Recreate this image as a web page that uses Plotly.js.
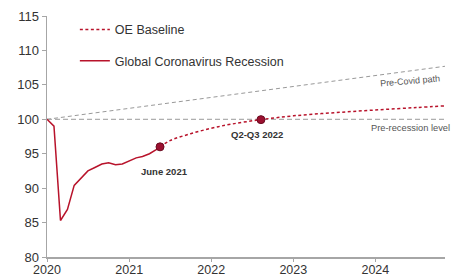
<!DOCTYPE html>
<html>
<head>
<meta charset="utf-8">
<script src="https://cdn.plot.ly/plotly-3.0.1.min.js"></script>
<style>html,body{margin:0;padding:0;background:#fff}#chart{width:454px;height:277px}</style>
</head>
<body>
<div id="chart"></div>
<script>
// Global Coronavirus Recession (monthly)
const recessionDates = ['2020-01-01','2020-02-01','2020-03-01','2020-04-01','2020-05-01','2020-06-01','2020-07-01','2020-08-01','2020-09-01','2020-10-01','2020-11-01','2020-12-01','2021-01-01','2021-02-01','2021-03-01','2021-04-01','2021-05-01','2021-05-18'];
const recessionValues = [100, 99.0, 85.3, 86.9, 90.4, 91.5, 92.5, 93.0, 93.5, 93.7, 93.4, 93.5, 93.9, 94.4, 94.6, 95.0, 95.6, 96.0];
// OE Baseline
const baselineDates = ['2021-05-18','2021-07-01','2021-10-01','2022-01-01','2022-04-01','2022-08-10','2023-01-01','2023-07-01','2024-01-01','2024-07-01','2024-11-06'];
const baselineValues = [96.0, 96.9, 97.9, 98.7, 99.3, 99.95, 100.5, 100.95, 101.35, 101.7, 101.95];
// Reference paths
const refDates = ['2020-01-01','2024-11-06'];
const preCovidValues = [100, 107.7];
const preRecessionValues = [100, 100];
// Highlighted points
const markerDates = ['2021-05-18','2022-08-10'];
const markerValues = [96.0, 99.95];
const markerLabels = ['June 2021','Q2-Q3 2022'];
const yTicks = [80, 85, 90, 95, 100, 105, 110, 115];

const red = '#b8132b';
const traces = [
  {x: refDates, y: preCovidValues, mode: 'lines', line: {color: '#999', width: 1, dash: '4px,3px'}, showlegend: false, hoverinfo: 'skip'},
  {x: refDates, y: preRecessionValues, mode: 'lines', line: {color: '#999', width: 1, dash: '5px,3px'}, showlegend: false, hoverinfo: 'skip'},
  {x: baselineDates, y: baselineValues, mode: 'lines', name: 'OE Baseline', line: {color: red, width: 1.5, dash: '3px,2.5px', shape: 'spline'}, legendgroup: 'a'},
  {x: recessionDates, y: recessionValues, mode: 'lines', name: 'Global Coronavirus Recession', line: {color: red, width: 1.5}, legendgroup: 'b'},
  {x: markerDates, y: markerValues, mode: 'markers', marker: {color: '#9b1030', size: 8, line: {color: '#6a0b20', width: 1}}, showlegend: false}
];

const annotations = [
  {x: markerDates[0], y: markerValues[0], text: '<b>' + markerLabels[0] + '</b>', showarrow: false, xanchor: 'center', yanchor: 'top', xshift: 4, yshift: -17, font: {family: 'Liberation Sans, Arial', size: 9.5, color: '#333'}},
  {x: markerDates[1], y: markerValues[1], text: '<b>' + markerLabels[1] + '</b>', showarrow: false, xanchor: 'center', yanchor: 'top', xshift: -4, yshift: -7, font: {family: 'Liberation Sans, Arial', size: 9.5, color: '#333'}},
  {x: '2024-11-06', y: 105.6, text: 'Pre-Covid path', showarrow: false, xanchor: 'right', yanchor: 'middle', xshift: -3, textangle: -5, font: {family: 'Liberation Sans, Arial', size: 9, color: '#555'}},
  {x: '2024-11-06', y: 100, text: 'Pre-recession level', showarrow: false, xanchor: 'right', yanchor: 'top', xshift: 7, yshift: -2, font: {family: 'Liberation Sans, Arial', size: 9.3, color: '#555'}}
];

const layout = {
  width: 454, height: 277,
  margin: {l: 47, r: 9, t: 16, b: 20},
  paper_bgcolor: '#fff', plot_bgcolor: '#fff',
  font: {family: 'Liberation Sans, Arial, sans-serif', color: '#333', size: 13},
  showlegend: true,
  legend: {x: 0.07, y: 1.005, xanchor: 'left', yanchor: 'top', bgcolor: 'rgba(0,0,0,0)', font: {size: 12.5, color: '#333'}, traceorder: 'grouped', tracegroupgap: 12, itemwidth: 30},
  xaxis: {type: 'date', range: ['2020-01-01','2024-11-06'], tickformat: '%Y', dtick: 'M12', tick0: '2020-01-01', showgrid: false, zeroline: false, showline: true, linecolor: '#a6a6a6', linewidth: 1.5, ticks: 'outside', ticklen: 3, tickcolor: '#a6a6a6', ticklabelstandoff: -3, tickfont: {size: 12.5, color: '#333'}},
  yaxis: {range: [80, 115], tickvals: yTicks, showgrid: false, zeroline: false, showline: true, linecolor: '#a6a6a6', linewidth: 1.5, ticks: 'outside', ticklen: 4, tickcolor: '#a6a6a6', tickfont: {size: 13, color: '#333'}},
  annotations: annotations
};

Plotly.newPlot('chart', traces, layout, {displayModeBar: false, staticPlot: true});
</script>
</body>
</html>
